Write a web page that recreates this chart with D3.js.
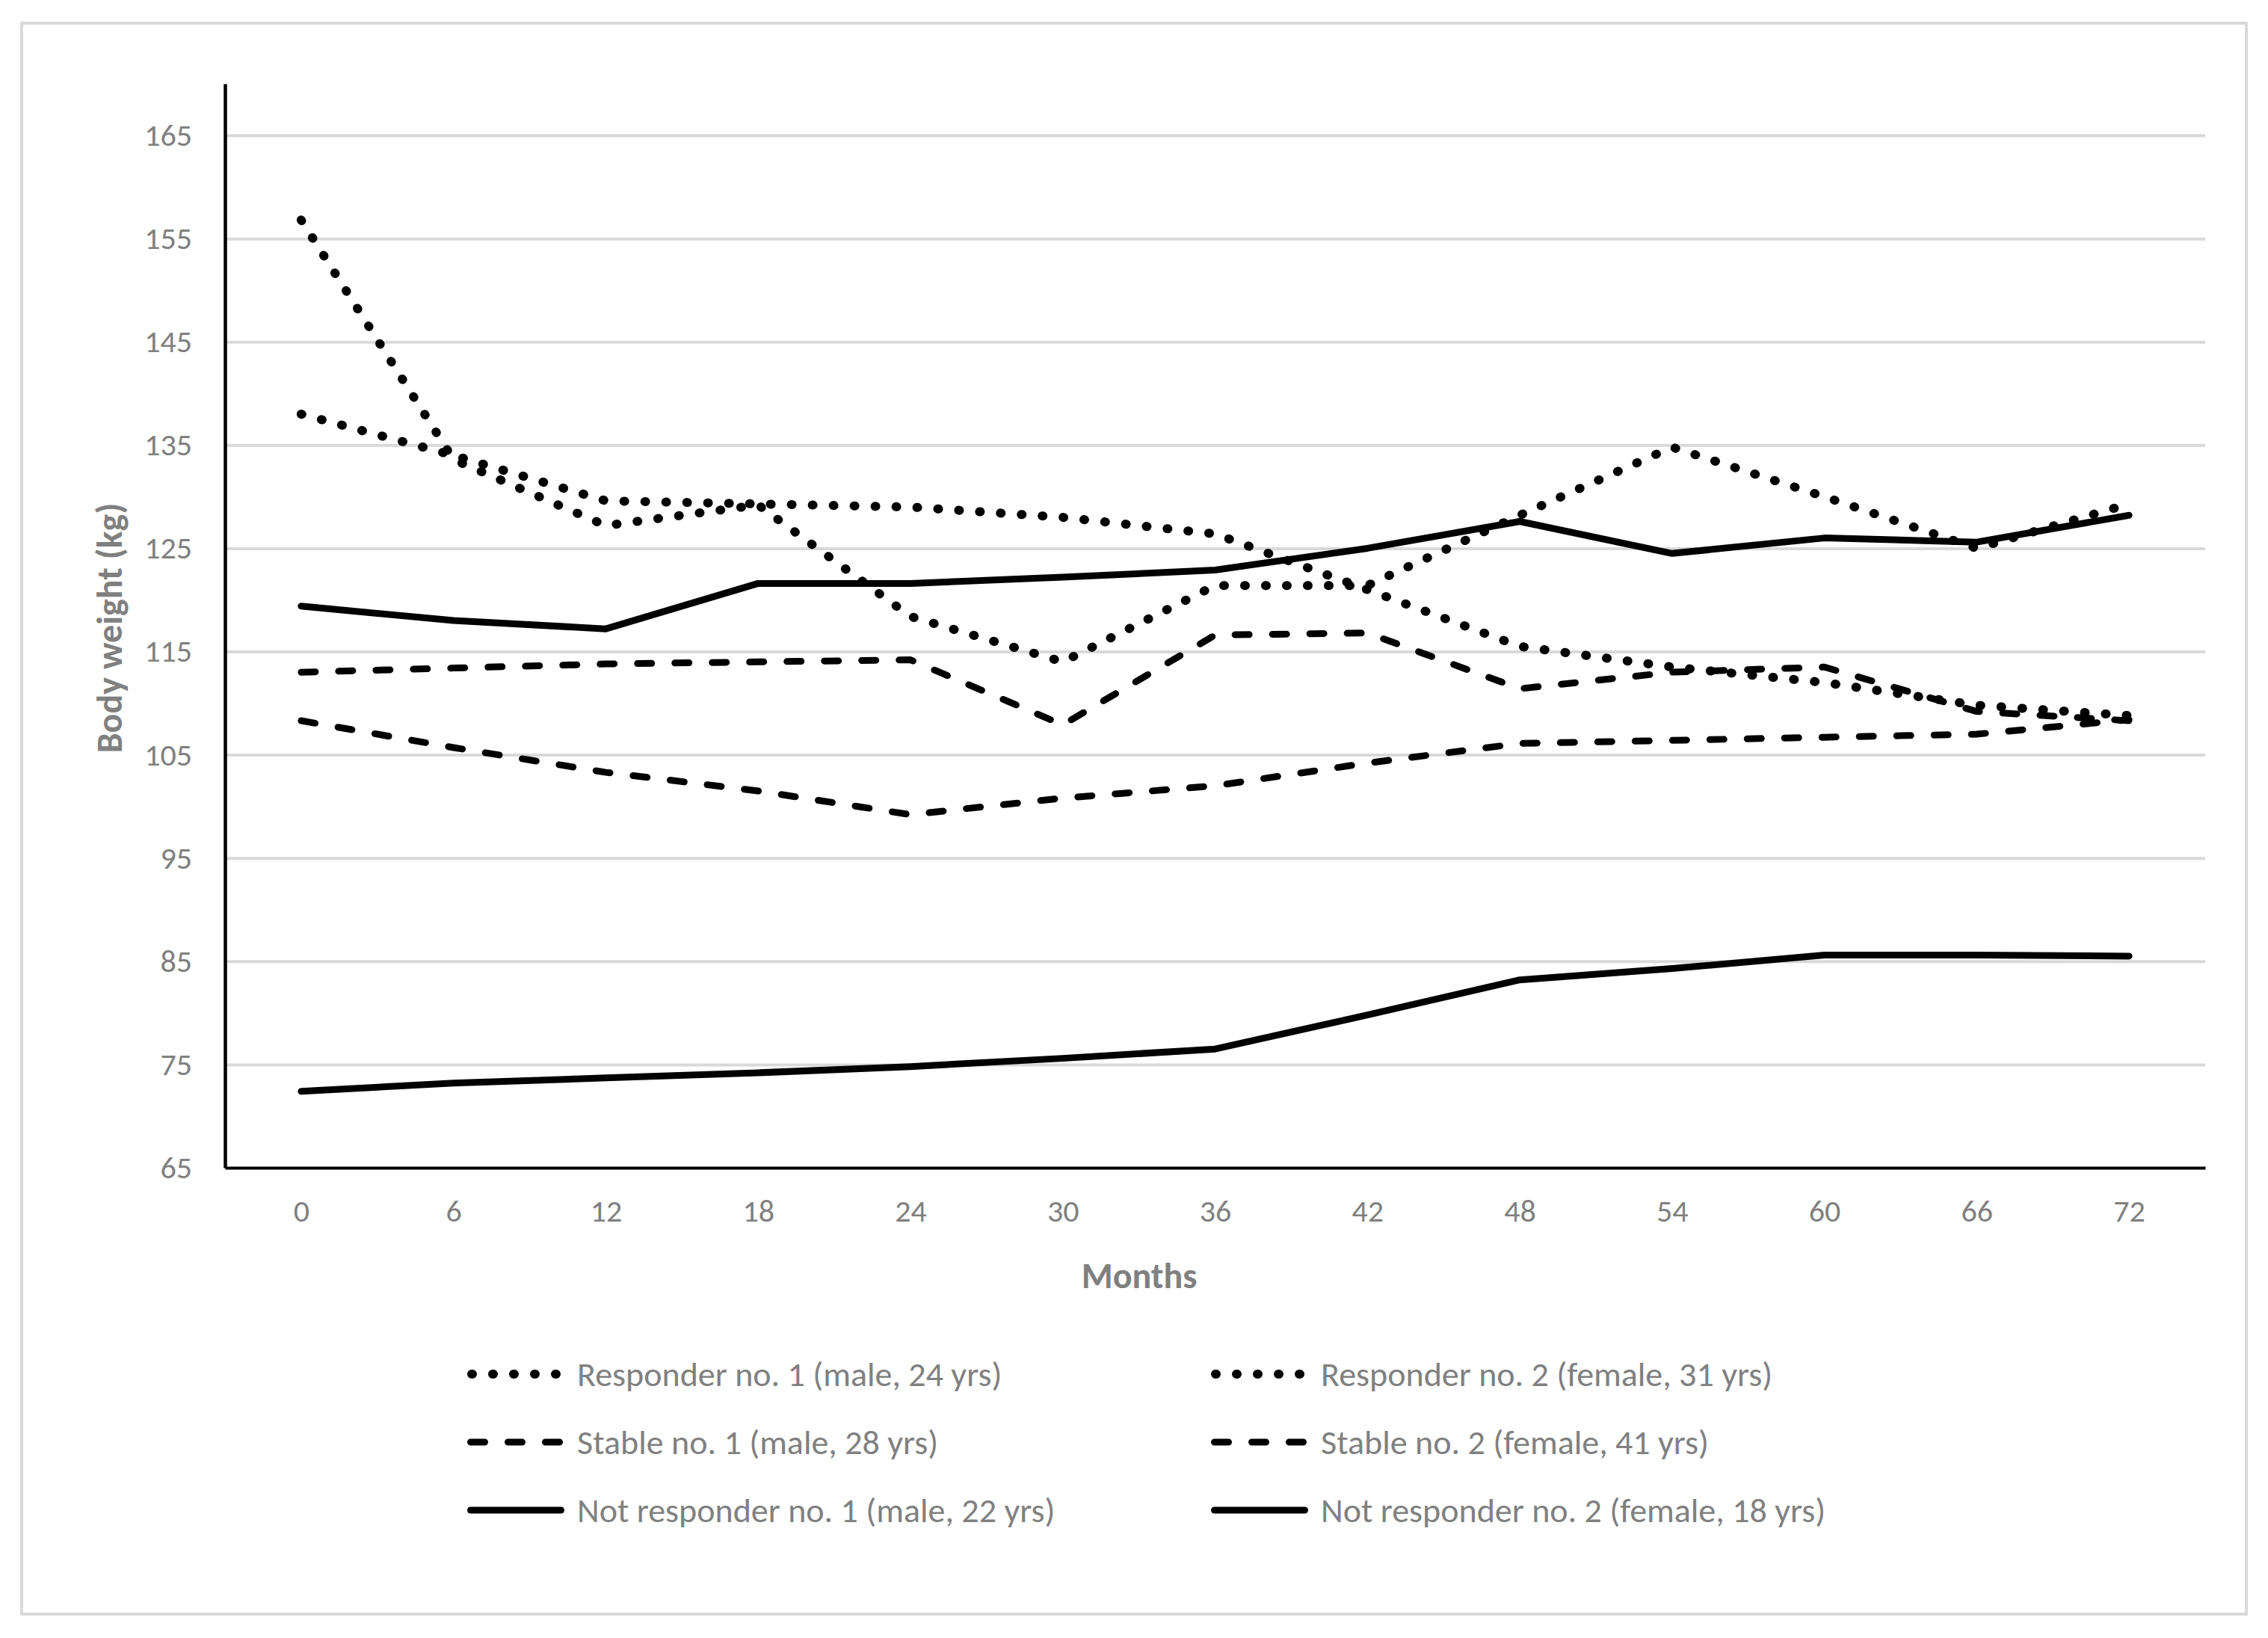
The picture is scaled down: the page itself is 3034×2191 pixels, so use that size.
<!DOCTYPE html>
<html>
<head>
<meta charset="utf-8">
<script src="https://cdn.jsdelivr.net/npm/d3@7"></script>
<style>
  body { margin: 0; background: #fff; }
  text { font-family: Carlito, Calibri, Lato, sans-serif; fill: #808080; }
  .axis-title { font-weight: bold; }
</style>
</head>
<body>
<svg id="chart"></svg>
<script>
// months on the x axis
const months = [0, 6, 12, 18, 24, 30, 36, 42, 48, 54, 60, 66, 72];
const yTicks = [65, 75, 85, 95, 105, 115, 125, 135, 145, 155, 165];

// body weight (kg)
const responder1 = [156.8, 133.6, 127.2, 129.2, 118.4, 114.0, 121.4, 121.4, 128.2, 134.8, 130.0, 125.0, 129.3];
const responder2 = [138.0, 134.0, 129.6, 129.3, 129.0, 128.0, 126.4, 121.0, 115.5, 113.5, 112.0, 109.8, 108.8];
const stable1 = [113.0, 113.4, 113.8, 114.0, 114.2, 107.9, 116.6, 116.8, 111.4, 113.0, 113.5, 109.2, 108.3];
const stable2 = [108.3, 105.7, 103.3, 101.5, 99.2, 100.8, 102.0, 104.2, 106.1, 106.4, 106.7, 107.0, 108.4];
const notResponder1 = [119.4, 118.0, 117.2, 121.6, 121.6, 122.2, 122.9, 125.0, 127.6, 124.5, 126.0, 125.6, 128.2];
const notResponder2 = [72.4, 73.2, 73.7, 74.2, 74.8, 75.6, 76.5, 79.8, 83.2, 84.3, 85.6, 85.6, 85.5];

const seriesNames = [
  'Responder no. 1 (male, 24 yrs)',
  'Responder no. 2 (female, 31 yrs)',
  'Stable no. 1 (male, 28 yrs)',
  'Stable no. 2 (female, 41 yrs)',
  'Not responder no. 1 (male, 22 yrs)',
  'Not responder no. 2 (female, 18 yrs)'
];
const seriesValues = [responder1, responder2, stable1, stable2, notResponder1, notResponder2];
const seriesStyles = ['dot', 'dot', 'dash', 'dash', 'solid', 'solid'];

// stroke look per line style
const lineStyle = {
  dot: {width: 12, dash: '1 27'},
  dash: {width: 9, dash: '19 31'},
  solid: {width: 9, dash: null}
};

class LineChart {

  constructor(_config) {
    this.config = {
      parentElement: _config.parentElement,
      containerWidth: _config.containerWidth || 3034,
      containerHeight: _config.containerHeight || 2191,
      margin: _config.margin || {top: 112, right: 84, bottom: 629, left: 301},
    }
    this.initVis();
  }

  initVis() {
    let vis = this;

    vis.width = vis.config.containerWidth - vis.config.margin.left - vis.config.margin.right;
    vis.height = vis.config.containerHeight - vis.config.margin.top - vis.config.margin.bottom;

    vis.svg = d3.select(vis.config.parentElement)
        .attr('width', vis.config.containerWidth)
        .attr('height', vis.config.containerHeight);

    // light frame around the whole chart area
    vis.svg.append('rect')
        .attr('x', 29)
        .attr('y', 31)
        .attr('width', 2976)
        .attr('height', 2128)
        .attr('fill', 'none')
        .attr('stroke', '#d9d9d9')
        .attr('stroke-width', 4);

    vis.xScale = d3.scalePoint()
        .domain(months)
        .range([0, vis.width])
        .padding(0.5);

    vis.yScale = d3.scaleLinear()
        .domain([65, 170])
        .range([vis.height, 0]);

    vis.chart = vis.svg.append('g')
        .attr('transform', `translate(${vis.config.margin.left},${vis.config.margin.top})`);

    // gridlines
    vis.chart.append('g')
        .attr('class', 'grid')
        .call(d3.axisLeft(vis.yScale).tickValues(yTicks.slice(1)).tickSize(-vis.width).tickFormat(''))
        .call(g => g.select('.domain').remove())
        .call(g => g.selectAll('line').attr('stroke', '#d9d9d9').attr('stroke-width', 4));

    vis.yAxisG = vis.chart.append('g')
        .attr('class', 'axis y-axis')
        .call(d3.axisLeft(vis.yScale).tickValues(yTicks).tickSize(0).tickPadding(44))
        .call(g => g.select('.domain').attr('stroke', '#000').attr('stroke-width', 4.5))
        .call(g => g.selectAll('text').attr('font-size', 42).attr('fill', '#808080'));

    vis.xAxisG = vis.chart.append('g')
        .attr('class', 'axis x-axis')
        .attr('transform', `translate(0,${vis.height})`)
        .call(d3.axisBottom(vis.xScale).tickSize(0).tickPadding(42))
        .call(g => g.select('.domain').attr('stroke', '#000').attr('stroke-width', 4))
        .call(g => g.selectAll('text').attr('font-size', 42).attr('fill', '#808080'));

    vis.svg.append('text')
        .attr('class', 'axis-title')
        .attr('x', 1524)
        .attr('y', 1723)
        .attr('font-size', 48)
        .style('text-anchor', 'middle')
        .text('Months');

    vis.svg.append('text')
        .attr('class', 'axis-title')
        .attr('transform', `translate(163,840) rotate(-90)`)
        .attr('font-size', 48)
        .style('text-anchor', 'middle')
        .text('Body weight (kg)');
  }

  updateVis(data) {
    let vis = this;
    vis.data = data;
    vis.renderVis();
  }

  renderVis() {
    let vis = this;

    const line = d3.line()
        .x((d, i) => vis.xScale(months[i]))
        .y(d => vis.yScale(d));

    vis.chart.selectAll('.series')
        .data(vis.data)
        .join('path')
        .attr('class', 'series')
        .attr('fill', 'none')
        .attr('stroke', '#000')
        .attr('stroke-width', d => lineStyle[d.style].width)
        .attr('stroke-linejoin', 'round')
        .attr('stroke-linecap', 'round')
        .attr('stroke-dasharray', d => lineStyle[d.style].dash)
        .attr('d', d => line(d.values));

    // legend, two columns by three rows
    const legend = vis.svg.append('g').attr('class', 'legend');
    const item = legend.selectAll('.legend-item')
        .data(vis.data)
        .join('g')
        .attr('class', 'legend-item')
        .attr('transform', (d, i) => `translate(${625 + (i % 2) * 995},${1838 + Math.floor(i / 2) * 91})`);

    item.append('line')
        .attr('x1', d => lineStyle[d.style].width / 2)
        .attr('x2', d => 130 - lineStyle[d.style].width / 2)
        .attr('stroke', '#000')
        .attr('stroke-width', d => lineStyle[d.style].width)
        .attr('stroke-linecap', 'round')
        .attr('stroke-dasharray', d => lineStyle[d.style].dash);

    item.append('text')
        .attr('x', 147)
        .attr('dy', '0.35em')
        .attr('font-size', 46)
        .text(d => d.name);
  }
}

const chart = new LineChart({parentElement: '#chart'});
chart.updateVis(seriesNames.map((name, i) => ({name: name, values: seriesValues[i], style: seriesStyles[i]})));
</script>
</body>
</html>
